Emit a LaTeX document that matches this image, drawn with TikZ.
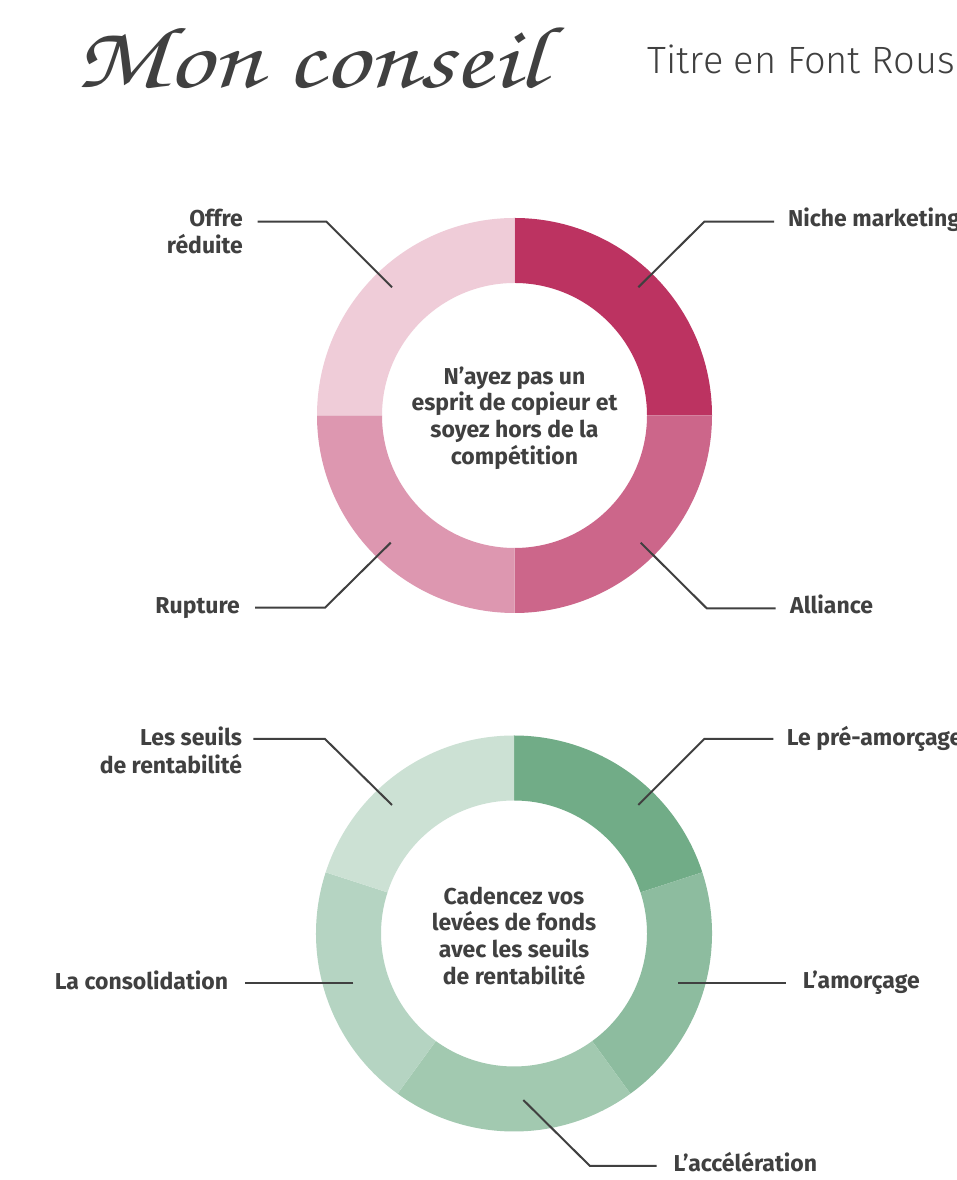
\documentclass[tikz,border=0pt]{standalone}
\usepackage{fontspec}
\setmainfont{Fira Sans}
\newfontfamily\headfont{Fira Sans Light}
\newfontfamily\handfont[FakeStretch=1.25]{texgyrechorus-mediumitalic.otf}
\definecolor{ink}{HTML}{404040}
\definecolor{rA}{HTML}{BC3361}
\definecolor{rB}{HTML}{CC668A}
\definecolor{rC}{HTML}{DD97B0}
\definecolor{rD}{HTML}{EFCCD8}
\definecolor{gA}{HTML}{71AC87}
\definecolor{gB}{HTML}{8DBC9F}
\definecolor{gC}{HTML}{A2C9B0}
\definecolor{gD}{HTML}{B5D4C2}
\definecolor{gE}{HTML}{CCE1D4}
\newcommand\ringseg[6]{%
  \fill[#6, shift={(#1)}] (#4:#2pt) arc[start angle=#4, end angle=#5, radius=#2pt]
    -- (#5:#3pt) arc[start angle=#5, end angle=#4, radius=#3pt] -- cycle;}
\tikzset{
  lab/.style={font=\bfseries\fontsize{23}{27}\selectfont, text=ink, inner sep=0pt},
  hubtext/.style={font=\bfseries\fontsize{23}{26.7}\selectfont, text=ink, align=center, inner sep=0pt},
  conn/.style={draw=ink, line width=2pt},
}
\begin{document}
\begin{tikzpicture}[x=1pt,y=1pt]
\useasboundingbox (0,0) rectangle (956,1180);
\fill[white] (0,0) rectangle (956,1180);
\begin{scope}
\clip (0,0) rectangle (956,1180);

% titles
\node[anchor=base west, inner sep=0pt, text=ink, font=\handfont\fontsize{88}{88}\selectfont] (title) at (75,1092) {Mon conseil};
\node[anchor=base west, inner sep=0pt, text=ink, font=\headfont\fontsize{38}{38}\selectfont] (subtitle) at (647.7,1106.7) {Titre en Font Rous};

% top donut
\coordinate (c1) at (514.5,764.5);
\ringseg{c1}{197.5}{132.5}{0}{90}{rA}
\ringseg{c1}{197.5}{132.5}{-90}{0}{rB}
\ringseg{c1}{197.5}{132.5}{180}{270}{rC}
\ringseg{c1}{197.5}{132.5}{90}{180}{rD}
\node[hubtext] (hub1) at (514.5,762) {N’ayez pas un\\esprit de copieur et\\soyez hors de la\\compétition};

% bottom donut
\coordinate (c2) at (514,246.5);
\ringseg{c2}{198}{133}{18}{90}{gA}
\ringseg{c2}{198}{133}{-54}{18}{gB}
\ringseg{c2}{198}{133}{-126}{-54}{gC}
\ringseg{c2}{198}{133}{162}{234}{gD}
\ringseg{c2}{198}{133}{90}{162}{gE}
\node[hubtext] (hub2) at (514,244.3) {Cadencez vos\\levées de fonds\\avec les seuils\\de rentabilité};

% top connectors
\coordinate (p1) at (392,892.7);   \coordinate (k1) at (326.4,958.3); \coordinate (e1) at (257.7,958.3);
\coordinate (p2) at (638.3,892.7); \coordinate (k2) at (704.3,958.3); \coordinate (e2) at (774,958.3);
\coordinate (p3) at (390.7,637.3); \coordinate (k3) at (325,572.3);   \coordinate (e3) at (255,572.3);
\coordinate (p4) at (640.7,637.3); \coordinate (k4) at (706.7,571.7); \coordinate (e4) at (775.7,571.7);
\draw[conn] (p1) -- (k1) -- (e1);
\draw[conn] (p2) -- (k2) -- (e2);
\draw[conn] (p3) -- (k3) -- (e3);
\draw[conn] (p4) -- (k4) -- (e4);
\node[lab, anchor=base east] (l1) at (243,953.3) {\begin{tabular}[t]{@{}r@{}}Offre\\réduite\end{tabular}};
\node[lab, anchor=base west] (l2) at (788,953.3) {Niche marketing};
\node[lab, anchor=base east] (l3) at (240,566) {Rupture};
\node[lab, anchor=base west] (l4) at (790,566.7) {Alliance};

% bottom connectors
\coordinate (q1) at (392,375);     \coordinate (m1) at (325,441);   \coordinate (f1) at (253.3,441);
\coordinate (q2) at (638.3,375);   \coordinate (m2) at (704.3,441); \coordinate (f2) at (773.3,441);
\coordinate (q3) at (678.3,197.3); \coordinate (f3) at (785.7,197.3);
\coordinate (q4) at (353.3,197.3); \coordinate (f4) at (245,197.3);
\coordinate (q5) at (523.3,80);    \coordinate (m5) at (590,14);    \coordinate (f5) at (656.7,14);
\draw[conn] (q1) -- (m1) -- (f1);
\draw[conn] (q2) -- (m2) -- (f2);
\draw[conn] (q3) -- (f3);
\draw[conn] (q4) -- (f4);
\draw[conn] (q5) -- (m5) -- (f5);
\node[lab, anchor=base east] (n1) at (242.3,434) {\begin{tabular}[t]{@{}r@{}}Les seuils\\de rentabilité\end{tabular}};
\node[lab, anchor=base west] (n2) at (786.7,434) {Le pré-amorçage};
\node[lab, anchor=base west] (n3) at (802.7,191) {L’amorçage};
\node[lab, anchor=base east] (n4) at (228.3,190.7) {La consolidation};
\node[lab, anchor=base west] (n5) at (673.3,8.3) {L’accélération};
\end{scope}
\end{tikzpicture}
\end{document}
